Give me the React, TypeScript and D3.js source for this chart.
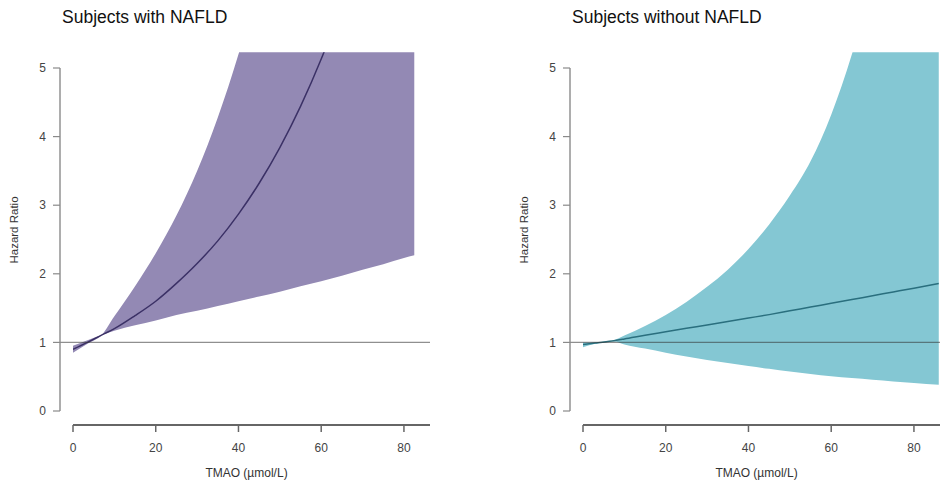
import * as d3 from 'd3';

// TMAO (µmol/L) grid and hazard ratio, per panel
const tmaoWith = [0, 3.5, 7, 10, 15, 20, 25, 30, 35, 40, 45, 50, 55, 60, 65, 70, 75, 80, 82.5];
const hrWith = [0.9, 1.0, 1.11, 1.2, 1.39, 1.6, 1.86, 2.15, 2.48, 2.87, 3.32, 3.84, 4.44, 5.13, 5.93, 6.86, 7.9, 9.2, 9.8];
const upperWith = [0.85, 0.98, 1.11, 1.38, 1.82, 2.3, 2.85, 3.5, 4.28, 5.2, 6.3, 7.7, 9.5, 11.8, 14.6, 18, 22, 27, 30];
const lowerWith = [0.95, 1.03, 1.11, 1.17, 1.25, 1.32, 1.4, 1.46, 1.53, 1.6, 1.67, 1.74, 1.82, 1.89, 1.97, 2.06, 2.14, 2.23, 2.27];

const tmaoWithout = [0, 3, 7, 10, 15, 20, 25, 30, 35, 40, 45, 50, 55, 60, 65, 70, 75, 80, 86];
const hrWithout = [0.97, 0.99, 1.02, 1.05, 1.105, 1.155, 1.205, 1.255, 1.305, 1.355, 1.405, 1.46, 1.515, 1.57, 1.625, 1.68, 1.735, 1.79, 1.86];
const upperWithout = [0.93, 0.98, 1.02, 1.1, 1.24, 1.4, 1.59, 1.81, 2.06, 2.36, 2.72, 3.14, 3.64, 4.32, 5.2, 6.3, 7.7, 9.5, 12.2];
const lowerWithout = [1.0, 1.0, 1.02, 0.97, 0.91, 0.85, 0.795, 0.745, 0.7, 0.655, 0.615, 0.575, 0.54, 0.508, 0.48, 0.455, 0.43, 0.407, 0.382];

const xTicks = [0, 20, 40, 60, 80];
const yTicks = [0, 1, 2, 3, 4, 5];

const FONT = '"Liberation Sans", Arial, Helvetica, sans-serif';

type PanelProps = {
  id: string;
  left: number;
  title: string;
  xs: number[];
  mid: number[];
  upper: number[];
  lower: number[];
  fill: string;
  stroke: string;
};

const Panel = ({ id, left, title, xs, mid, upper, lower, fill, stroke }: PanelProps) => {
  const axisX = left; // y axis position
  const x = d3.scaleLinear().domain([0, 86.3]).range([left + 13, left + 370]);
  const y = d3.scaleLinear().domain([0, 5]).range([411, 68]);
  const yMax = 5.23;

  const rows = xs.map((v, i) => ({ x: v, m: mid[i], u: upper[i], l: lower[i] }));

  const area = d3.area<typeof rows[number]>()
    .x(d => x(d.x))
    .y0(d => y(d.l))
    .y1(d => y(d.u))
    .curve(d3.curveMonotoneX);

  const line = d3.line<typeof rows[number]>()
    .x(d => x(d.x))
    .y(d => y(d.m))
    .curve(d3.curveMonotoneX);

  const [x0, x1] = x.range();
  const axisY = 425;

  return (
    <g>
      <defs>
        <clipPath id={`clip-${id}`}>
          <rect x={x0} y={y(yMax)} width={x1 - x0} height={y(0) - y(yMax) + 20} />
        </clipPath>
      </defs>

      <text x={left + 2} y={23} fontSize={17.5} fill="#111" fontFamily={FONT}>{title}</text>

      <g clipPath={`url(#clip-${id})`}>
        <path d={area(rows) ?? ''} fill={fill} />
        <path d={line(rows) ?? ''} fill="none" stroke={stroke} strokeWidth={1.5} />
      </g>

      {/* reference line at HR = 1 */}
      <line x1={axisX} x2={x1} y1={y(1)} y2={y(1)} stroke="#333" strokeOpacity={0.55} strokeWidth={1.3} />

      {/* y axis */}
      <line x1={axisX} x2={axisX} y1={y(0)} y2={y(5)} stroke="#8a8a8a" strokeWidth={1.4} />
      {yTicks.map(t => (
        <g key={t}>
          <line x1={axisX - 7} x2={axisX} y1={y(t)} y2={y(t)} stroke="#8a8a8a" strokeWidth={1.2} />
          <text x={axisX - 14} y={y(t)} dy="0.35em" textAnchor="end" fontSize={12} fill="#444" fontFamily={FONT}>{t}</text>
        </g>
      ))}
      <text transform={`translate(${axisX - 42},${230}) rotate(-90)`} textAnchor="middle" fontSize={11.5} fill="#333" fontFamily={FONT}>
        Hazard Ratio
      </text>

      {/* x axis */}
      <line x1={x(0)} x2={x1} y1={axisY} y2={axisY} stroke="#666" strokeWidth={1.8} />
      {xTicks.map(t => (
        <g key={t}>
          <line x1={x(t)} x2={x(t)} y1={axisY} y2={axisY + 7} stroke="#666" strokeWidth={1.5} />
          <text x={x(t)} y={452} textAnchor="middle" fontSize={12} fill="#444" fontFamily={FONT}>{t}</text>
        </g>
      ))}
      <text x={(x(0) + x1) / 2 - 5} y={477} textAnchor="middle" fontSize={12} fill="#333" fontFamily={FONT}>
        TMAO (µmol/L)
      </text>
    </g>
  );
};

export default function App() {
  return (
    <svg
      width={940}
      height={480}
      style={{ position: 'absolute', left: 0, top: 0, background: '#fff' }}
    >
      <Panel
        id="with"
        left={60}
        title="Subjects with NAFLD"
        xs={tmaoWith}
        mid={hrWith}
        upper={upperWith}
        lower={lowerWith}
        fill="#9389b4"
        stroke="#3b3166"
      />
      <Panel
        id="without"
        left={570}
        title="Subjects without NAFLD"
        xs={tmaoWithout}
        mid={hrWithout}
        upper={upperWithout}
        lower={lowerWithout}
        fill="#84c7d3"
        stroke="#2a6f7e"
      />
    </svg>
  );
}
